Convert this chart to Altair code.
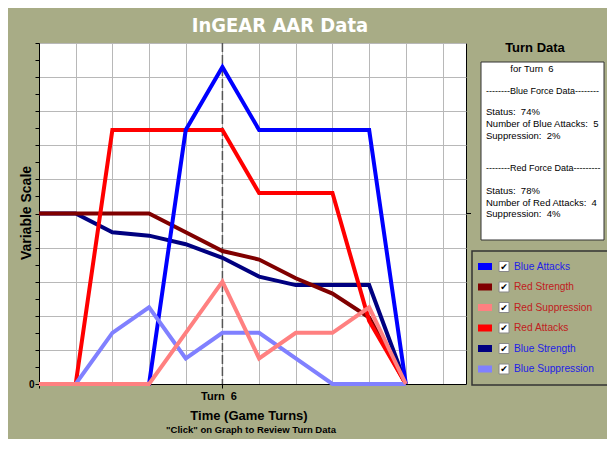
import altair as alt
import pandas as pd

# ---- data ----
turns = [1, 2, 3, 4, 5, 6, 7, 8, 9, 10, 11]
blue_attacks = [0, 0, 0, 0, 7.45, 9.3, 7.45, 7.45, 7.45, 7.45, 0]
red_attacks = [0, 0, 7.45, 7.45, 7.45, 7.45, 5.6, 5.6, 5.6, 1.85, 0]
red_strength = [5, 5, 5, 5, 4.45, 3.9, 3.65, 3.1, 2.65, 1.95, 0]
blue_strength = [5, 5, 4.45, 4.35, 4.1, 3.7, 3.15, 2.9, 2.9, 2.9, 0]
red_suppression = [0, 0, 0, 0, 1.5, 3.0, 0.75, 1.5, 1.5, 2.25, 0]
blue_suppression = [0, 0, 1.5, 2.25, 0.75, 1.5, 1.5, 0.75, 0, 0, 0]

legend_names = ["Blue Attacks", "Red Strength", "Red Suppression",
                "Red Attacks", "Blue Strength", "Blue Suppression"]
legend_colors = ["#0000FF", "#800000", "#FF8080", "#FF0000", "#000080", "#8080FF"]
legend_text_colors = ["#1E1EE6", "#C02020", "#C02020", "#C02020", "#1E1EE6", "#1E1EE6"]
draw_order = ["Blue Strength", "Red Strength", "Red Attacks", "Blue Attacks",
              "Blue Suppression", "Red Suppression"]

current_turn = 6
turn_data_lines = ["--------Blue Force Data--------", "Status:  74%",
                   "Number of Blue Attacks:  5", "Suppression:  2%",
                   "--------Red Force Data---------", "Status:  78%",
                   "Number of Red Attacks:  4", "Suppression:  4%"]

series_values = {
    "Blue Attacks": blue_attacks, "Red Attacks": red_attacks,
    "Red Strength": red_strength, "Blue Strength": blue_strength,
    "Red Suppression": red_suppression, "Blue Suppression": blue_suppression,
}
rows = []
for name, vals in series_values.items():
    for t, v in zip(turns, vals):
        rows.append({"series": name, "turn": t, "value": v})
df = pd.DataFrame(rows)
color_of = dict(zip(legend_names, legend_colors))

BG = "#A8AC86"
FONT = "Liberation Sans, Arial, sans-serif"
TITLE_FONT = "'Liberation Sans Narrow', 'DejaVu Sans Condensed', 'DejaVu Sans', sans-serif"

x_scale = alt.Scale(domain=[1, 12.64], nice=False, zero=False)
y_scale = alt.Scale(domain=[0, 10], nice=False)


def x_enc():
    return alt.X("turn:Q", scale=x_scale, axis=alt.Axis(
        values=list(range(1, 13)), labels=False, title=None,
        grid=True, gridColor="#B8B8B8", gridWidth=1,
        tickColor="black", tickSize=4,
        tickOpacity={"condition": {"test": "datum.value === 1 || datum.value === 6", "value": 1}, "value": 0},
        domainColor="black"))


def y_enc():
    return alt.Y("value:Q", scale=y_scale, axis=alt.Axis(
        values=[i * 0.5 for i in range(21)], title=None,
        labelExpr="datum.value === 0 ? '0' : ''", labelFont=FONT,
        labelFontWeight="bold", labelFontSize=10, labelColor="black",
        labelPadding=1,
        grid=True, gridColor="#B8B8B8", gridWidth=1,
        gridOpacity={"condition": {"test": "datum.value % 1 === 0", "value": 1}, "value": 0},
        tickColor="black", tickSize=4, domainColor="black"))


layers = []
for name in draw_order:
    layers.append(
        alt.Chart(df).transform_filter(alt.datum.series == name)
        .mark_line(color=color_of[name], strokeWidth=4, strokeJoin="miter")
        .encode(x=x_enc(), y=y_enc())
    )

# current-turn marker line
turn_df = pd.DataFrame({"turn": [current_turn]})
layers.insert(0, alt.Chart(turn_df).mark_rule(color="#555555", strokeWidth=1.5,
                                              strokeDash=[9, 3]).encode(x=x_enc()))

# right-edge tick at mid scale
mid_df = pd.DataFrame({"value": [5]})
layers.append(alt.Chart(mid_df).mark_rule(color="black", strokeWidth=1).encode(
    y=y_enc(), x=alt.value(427), x2=alt.value(432)))


def txt(text, x, y, size=10, weight="normal", color="black", align="left",
        font=FONT, angle=None):
    kw = dict(text=text, fontSize=size, fontWeight=weight, color=color,
              align=align, baseline="middle", font=font)
    if angle is not None:
        kw["angle"] = angle
    return alt.Chart(pd.DataFrame({"a": [0]})).mark_text(**kw).encode(
        x=alt.value(x), y=alt.value(y))


def box(x, x2, y, y2, fill, stroke, sw=1):
    return alt.Chart(pd.DataFrame({"a": [0]})).mark_rect(
        fill=fill, stroke=stroke, strokeWidth=sw).encode(
        x=alt.value(x), x2=alt.value(x2), y=alt.value(y), y2=alt.value(y2))


# title and axis texts
layers.append(txt("InGEAR AAR Data", 241, -17, size=20, weight="bold",
                  color="white", align="center", font=TITLE_FONT))
layers.append(txt("Variable Scale", -12, 170, size=14, weight="bold",
                  align="center", angle=270))
layers.append(txt(f"Turn\u00a0\u00a0{current_turn}", 180, 354, size=11,
                  weight="bold", align="center"))
layers.append(txt("Time (Game Turns)", 210, 373, size=13, weight="bold",
                  align="center"))
layers.append(txt("\"Click\" on Graph to Review Turn Data", 212, 387, size=9.5,
                  weight="bold", align="center"))

# Turn data panel
layers.append(txt("Turn Data", 496, 5, size=13, weight="bold", align="center"))
layers.append(box(442, 565, 19, 197, "white", "#333333"))
layers.append(txt(f"for Turn\u00a0\u00a0{current_turn}", 493, 26, size=9.5,
                  align="center"))
panel_y = [48, 69, 81, 93, 125, 148, 160, 171]
for line, yy in zip(turn_data_lines, panel_y):
    size = 9 if line.startswith("-") else 9.5
    layers.append(txt(line.replace("  ", " \u00a0"), 447, yy, size=size))

# legend panel
layers.append(box(433, 575, 208, 342, BG, "#333333", 1.5))
for i, (name, col, tcol) in enumerate(zip(legend_names, legend_colors,
                                          legend_text_colors)):
    yy = 223.5 + i * 20.5
    layers.append(box(439, 453, yy - 3.5, yy + 3.5, col, col, 0))
    layers.append(box(460, 470, yy - 5, yy + 5, "white", "#888888"))
    layers.append(txt("\u2714", 465, yy, size=9, weight="bold", align="center",
                      font="DejaVu Sans"))
    layers.append(txt(name, 475, yy, size=10.2, color=tcol))

chart = alt.layer(*layers).properties(
    width=427, height=341,
    autosize=alt.AutoSizeParams(type="none"),
    padding={"left": 31, "top": 35, "right": 141, "bottom": 55},
    background=BG,
).configure_view(fill="white", stroke="black", strokeWidth=1)

chart.save("out.html", embed_options={"renderer": "svg", "actions": False})
